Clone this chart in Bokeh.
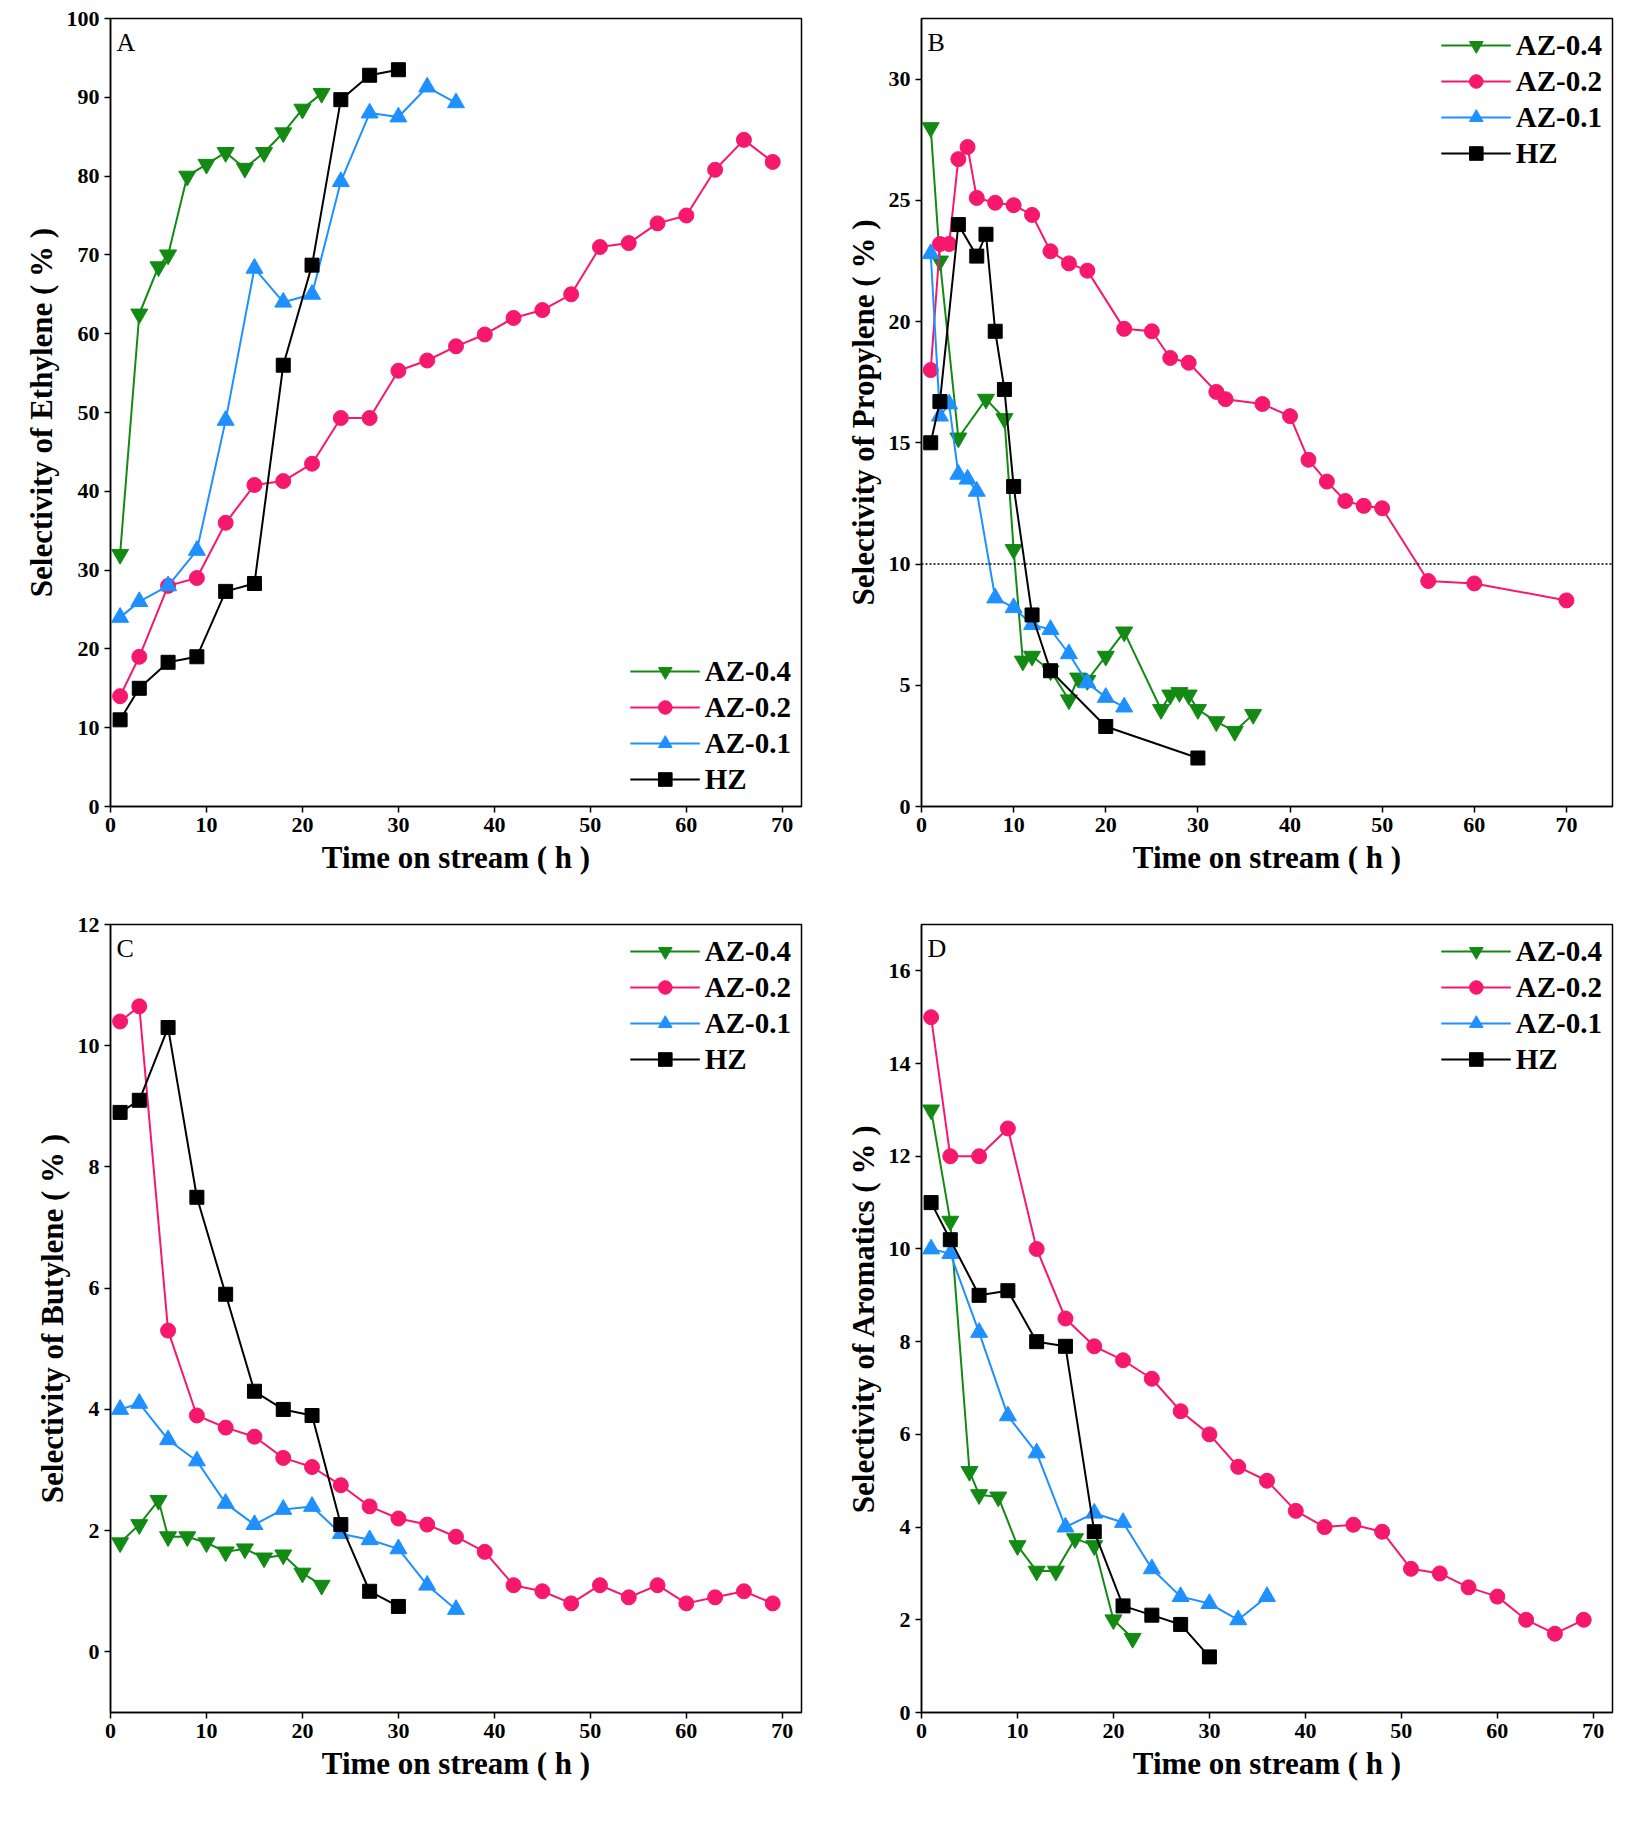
from bokeh.plotting import figure
from bokeh.layouts import gridplot
from bokeh.models import Span, Label, FixedTicker
from bokeh.embed import file_html
from bokeh.resources import INLINE

# ---- data ----
A_x04 = [1,3,5,6,8,10,12,14,16,18,20,22]
A_y04 = [32,62.5,68.5,70,80,81.5,83,81,83,85.5,88.5,90.5]
A_x02 = [1,3,6,9,12,15,18,21,24,27,30,33,36,39,42,45,48,51,54,57,60,63,66,69]
A_y02 = [14,19,28,29,36,40.8,41.3,43.5,49.3,49.3,55.3,56.6,58.4,59.9,62,63,65,71,71.5,74,75,80.8,84.6,81.8]
A_x01 = [1,3,6,9,12,15,18,21,24,27,30,33,36]
A_y01 = [24,26,28,32.5,49,68.3,64,65,79.3,88,87.5,91.3,89.3]
A_xhz = [1,3,6,9,12,15,18,21,24,27,30]
A_yhz = [11,15,18.3,19,27.3,28.3,56,68.7,89.7,92.8,93.5]

B_x04 = [1,2,4,7,9,10,11,12,14,16,17,18,20,22,26,27,28,29,30,32,34,36]
B_y04 = [28,22.5,15.2,16.8,16,10.6,6,6.2,5.6,4.4,5.3,5.2,6.2,7.2,4,4.6,4.7,4.6,4,3.5,3.1,3.8]
B_x02 = [1,2,3,4,5,6,8,10,12,14,16,18,22,25,27,29,32,33,37,40,42,44,46,48,50,55,60,70]
B_y02 = [18,23.2,23.2,26.7,27.2,25.1,24.9,24.8,24.4,22.9,22.4,22.1,19.7,19.6,18.5,18.3,17.1,16.8,16.6,16.1,14.3,13.4,12.6,12.4,12.3,9.3,9.2,8.5]
B_x01 = [1,2,3,4,5,6,8,10,12,14,16,18,20,22]
B_y01 = [22.8,16.1,16.6,13.7,13.5,13,8.6,8.2,7.5,7.3,6.3,5.1,4.5,4.1]
B_xhz = [1,2,4,6,7,8,9,10,12,14,20,30]
B_yhz = [15,16.7,24,22.7,23.6,19.6,17.2,13.2,7.9,5.6,3.3,2]

C_x04 = [1,3,5,6,8,10,12,14,16,18,20,22]
C_y04 = [1.8,2.1,2.5,1.9,1.9,1.8,1.65,1.7,1.55,1.6,1.3,1.1]
C_x02 = A_x02
C_y02 = [10.4,10.65,5.3,3.9,3.7,3.55,3.2,3.05,2.75,2.4,2.2,2.1,1.9,1.65,1.1,1,0.8,1.1,0.9,1.1,0.8,0.9,1,0.8]
C_x01 = A_x01
C_y01 = [4,4.1,3.5,3.15,2.45,2.1,2.35,2.4,1.95,1.85,1.7,1.1,0.7]
C_xhz = A_xhz
C_yhz = [8.9,9.1,10.3,7.5,5.9,4.3,4,3.9,2.1,1,0.75]

D_x04 = [1,3,5,6,8,10,12,14,16,18,20,22]
D_y04 = [13,10.6,5.2,4.7,4.65,3.6,3.05,3.05,3.75,3.6,2,1.6]
D_x02 = A_x02
D_y02 = [15,12,12,12.6,10,8.5,7.9,7.6,7.2,6.5,6,5.3,5,4.35,4,4.05,3.9,3.1,3,2.7,2.5,2,1.7,2]
D_x01 = A_x01
D_y01 = [10,9.9,8.2,6.4,5.6,4,4.3,4.1,3.1,2.5,2.35,2,2.5]
D_xhz = A_xhz
D_yhz = [11,10.2,9,9.1,8,7.9,3.9,2.3,2.1,1.9,1.2]

GREEN, PINK, BLUE, BLACK = "#138a13", "#f5186c", "#1e90ff", "#000000"
FONT = "Liberation Serif"

def panel(letter, ylabel, yr, yticks, xr, series, legend_loc):
    p = figure(width=811, height=906, output_backend="svg", toolbar_location=None,
               x_range=xr, y_range=yr, min_border_left=110, min_border_right=10,
               min_border_top=18, min_border_bottom=100)
    p.grid.visible = False
    p.outline_line_color = "black"
    p.outline_line_width = 1.5
    for ax in (p.xaxis[0], p.yaxis[0]):
        ax.major_label_text_font = FONT
        ax.major_label_text_font_size = "22px"
        ax.major_label_text_font_style = "bold"
        ax.major_label_text_color = "black"
        ax.axis_label_text_font = FONT
        ax.axis_label_text_font_size = "31px"
        ax.axis_label_text_font_style = "bold"
        ax.axis_label_text_color = "black"
        ax.minor_tick_line_color = None
        ax.axis_line_width = 1.5
        ax.major_tick_line_width = 1.5
        ax.major_tick_in = 0
        ax.major_tick_out = 6
    p.xaxis.ticker = FixedTicker(ticks=[0,10,20,30,40,50,60,70])
    p.yaxis.ticker = FixedTicker(ticks=yticks)
    p.xaxis.axis_label = "Time on stream ( h )"
    p.yaxis.axis_label = ylabel
    names = ["AZ-0.4", "AZ-0.2", "AZ-0.1", "HZ"]
    markers = ["inverted_triangle", "circle", "triangle", "square"]
    colors = [GREEN, PINK, BLUE, BLACK]
    sizes = [17, 15, 17, 14]
    for (x, y), n, m, c, s in zip(series, names, markers, colors, sizes):
        p.line(x, y, color=c, line_width=2, legend_label=n)
        p.scatter(x, y, marker=m, size=s, color=c, legend_label=n)
    p.legend.location = legend_loc
    p.legend.background_fill_alpha = 0
    p.legend.border_line_color = None
    p.legend.label_text_font = FONT
    p.legend.label_text_font_size = "29px"
    p.legend.label_text_font_style = "bold"
    p.legend.label_text_color = "black"
    p.legend.glyph_width = 70
    p.legend.glyph_height = 34
    p.legend.spacing = 2
    p.legend.margin = 10
    p.add_layout(Label(x=6, y=yr[1], x_units="screen", y_offset=-38, text=letter,
                       text_font=FONT, text_font_size="26px", text_color="black"))
    return p

pA = panel("A", "Selectivity of Ethylene ( % )", (0, 100), list(range(0, 101, 10)), (0, 72),
           [(A_x04, A_y04), (A_x02, A_y02), (A_x01, A_y01), (A_xhz, A_yhz)], "bottom_right")
pB = panel("B", "Selectivity of Propylene ( % )", (0, 32.5), [0,5,10,15,20,25,30], (0, 75),
           [(B_x04, B_y04), (B_x02, B_y02), (B_x01, B_y01), (B_xhz, B_yhz)], "top_right")
pB.add_layout(Span(location=10, dimension="width", line_color="black", line_dash="2 2", line_width=1.5))
pC = panel("C", "Selectivity of Butylene ( % )", (-1, 12), [0,2,4,6,8,10,12], (0, 72),
           [(C_x04, C_y04), (C_x02, C_y02), (C_x01, C_y01), (C_xhz, C_yhz)], "top_right")
pD = panel("D", "Selectivity of Aromatics ( % )", (0, 17), [0,2,4,6,8,10,12,14,16], (0, 72),
           [(D_x04, D_y04), (D_x02, D_y02), (D_x01, D_y01), (D_xhz, D_yhz)], "top_right")

grid = gridplot([[pA, pB], [pC, pD]], toolbar_location=None)
open("out.html", "w").write(file_html(grid, INLINE))
